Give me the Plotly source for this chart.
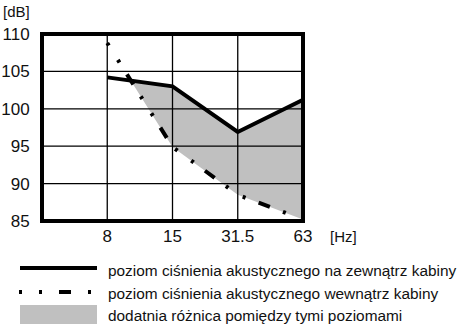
import plotly.graph_objects as go

# ---- data ----
freq_labels = ["8", "15", "31.5", "63"]
outside_db = [104.2, 103.0, 96.9, 101.2]   # poziom na zewnątrz kabiny
inside_db = [108.8, 94.9, 88.5, 85.2]      # poziom wewnątrz kabiny
y_ticks = [85, 90, 95, 100, 105, 110]
legend_texts = [
    "poziom ciśnienia akustycznego na zewnątrz kabiny",
    "poziom ciśnienia akustycznego wewnątrz kabiny",
    "dodatnia różnica pomiędzy tymi poziomami",
]

W, H = 457, 325
ML, MR, MT, MB = 42, 154, 34, 104
PW, PH = W - ML - MR, H - MT - MB
FONT = "Liberation Sans, Arial, sans-serif"

xs = list(range(1, len(freq_labels) + 1))

# ---- positive difference region (outside > inside) ----
poly_top = []
poly_bot = []
for i in range(len(xs)):
    d = outside_db[i] - inside_db[i]
    if d >= 0:
        poly_top.append((xs[i], outside_db[i]))
        poly_bot.append((xs[i], inside_db[i]))
    if i < len(xs) - 1:
        d2 = outside_db[i + 1] - inside_db[i + 1]
        if d * d2 < 0:
            t = d / (d - d2)
            cx = xs[i] + t * (xs[i + 1] - xs[i])
            cy = outside_db[i] + t * (outside_db[i + 1] - outside_db[i])
            poly_top.append((cx, cy))
            poly_bot.append((cx, cy))
poly = poly_top + poly_bot[::-1]

fig = go.Figure()
fig.add_trace(go.Scatter(
    x=[p[0] for p in poly], y=[p[1] for p in poly],
    mode="lines", fill="toself", fillcolor="#c0c0c0",
    line=dict(width=0, color="#c0c0c0"), hoverinfo="skip", showlegend=False))
fig.add_trace(go.Scatter(
    x=xs, y=inside_db, mode="lines",
    line=dict(color="black", width=4, dash="3px,17px,3px,14px,12px,14px"),
    showlegend=False))
fig.add_trace(go.Scatter(
    x=xs, y=outside_db, mode="lines",
    line=dict(color="black", width=4), showlegend=False))

shapes = []
# grid lines above the fill
for v in xs[:-1]:
    shapes.append(dict(type="line", xref="x", yref="paper", x0=v, x1=v, y0=0, y1=1,
                       line=dict(color="black", width=1.3), layer="above"))
for v in y_ticks[1:-1]:
    shapes.append(dict(type="line", xref="paper", yref="y", x0=0, x1=1, y0=v, y1=v,
                       line=dict(color="black", width=1.3), layer="above"))
# thick frame
shapes.append(dict(type="rect", xref="paper", yref="paper", x0=0, x1=1, y0=0, y1=1,
                   line=dict(color="black", width=4), layer="above"))


def px(x):
    return (x - ML) / PW


def py(y):
    return (H - MB - y) / PH


# custom legend
shapes.append(dict(type="line", xref="paper", yref="paper", x0=px(20), x1=px(97),
                   y0=py(268), y1=py(268), line=dict(color="black", width=4)))
shapes.append(dict(type="line", xref="paper", yref="paper", x0=px(19), x1=px(97),
                   y0=py(292), y1=py(292),
                   line=dict(color="black", width=4, dash="3px,17px,3px,17px,12px,17px")))
shapes.append(dict(type="rect", xref="paper", yref="paper", x0=px(20), x1=px(97),
                   y0=py(324), y1=py(305), line=dict(width=0), fillcolor="#c0c0c0"))

annotations = []
for text, yy in zip(legend_texts, [270, 293, 315]):
    annotations.append(dict(text=text, xref="paper", yref="paper", x=px(106), y=py(yy),
                            xanchor="left", yanchor="middle", showarrow=False,
                            font=dict(family=FONT, size=15.4, color="#111")))
annotations.append(dict(text="[dB]", xref="paper", yref="paper", x=px(1), y=py(12),
                        xanchor="left", yanchor="middle", showarrow=False,
                        font=dict(family=FONT, size=15, color="#111")))
annotations.append(dict(text="[Hz]", xref="paper", yref="paper", x=px(328), y=py(237),
                        xanchor="left", yanchor="middle", showarrow=False,
                        font=dict(family=FONT, size=15, color="#111")))

fig.update_layout(
    width=W, height=H,
    margin=dict(l=ML, r=MR, t=MT, b=MB, pad=0, autoexpand=False),
    paper_bgcolor="white", plot_bgcolor="white",
    shapes=shapes, annotations=annotations,
    showlegend=False,
    xaxis=dict(range=[0, len(xs)], tickvals=xs, ticktext=freq_labels,
               showgrid=False, zeroline=False, showline=False, automargin=False,
               ticks="", ticklen=0, ticklabelstandoff=3,
               tickfont=dict(family=FONT, size=17, color="#111"), fixedrange=True),
    yaxis=dict(range=[y_ticks[0], y_ticks[-1]], tickvals=y_ticks,
               showgrid=False, zeroline=False, showline=False, automargin=False,
               ticks="outside", ticklen=8, tickcolor="rgba(0,0,0,0)",
               tickfont=dict(family=FONT, size=17, color="#111"), fixedrange=True),
)

fig.write_html("out.html", config={"displayModeBar": False})
